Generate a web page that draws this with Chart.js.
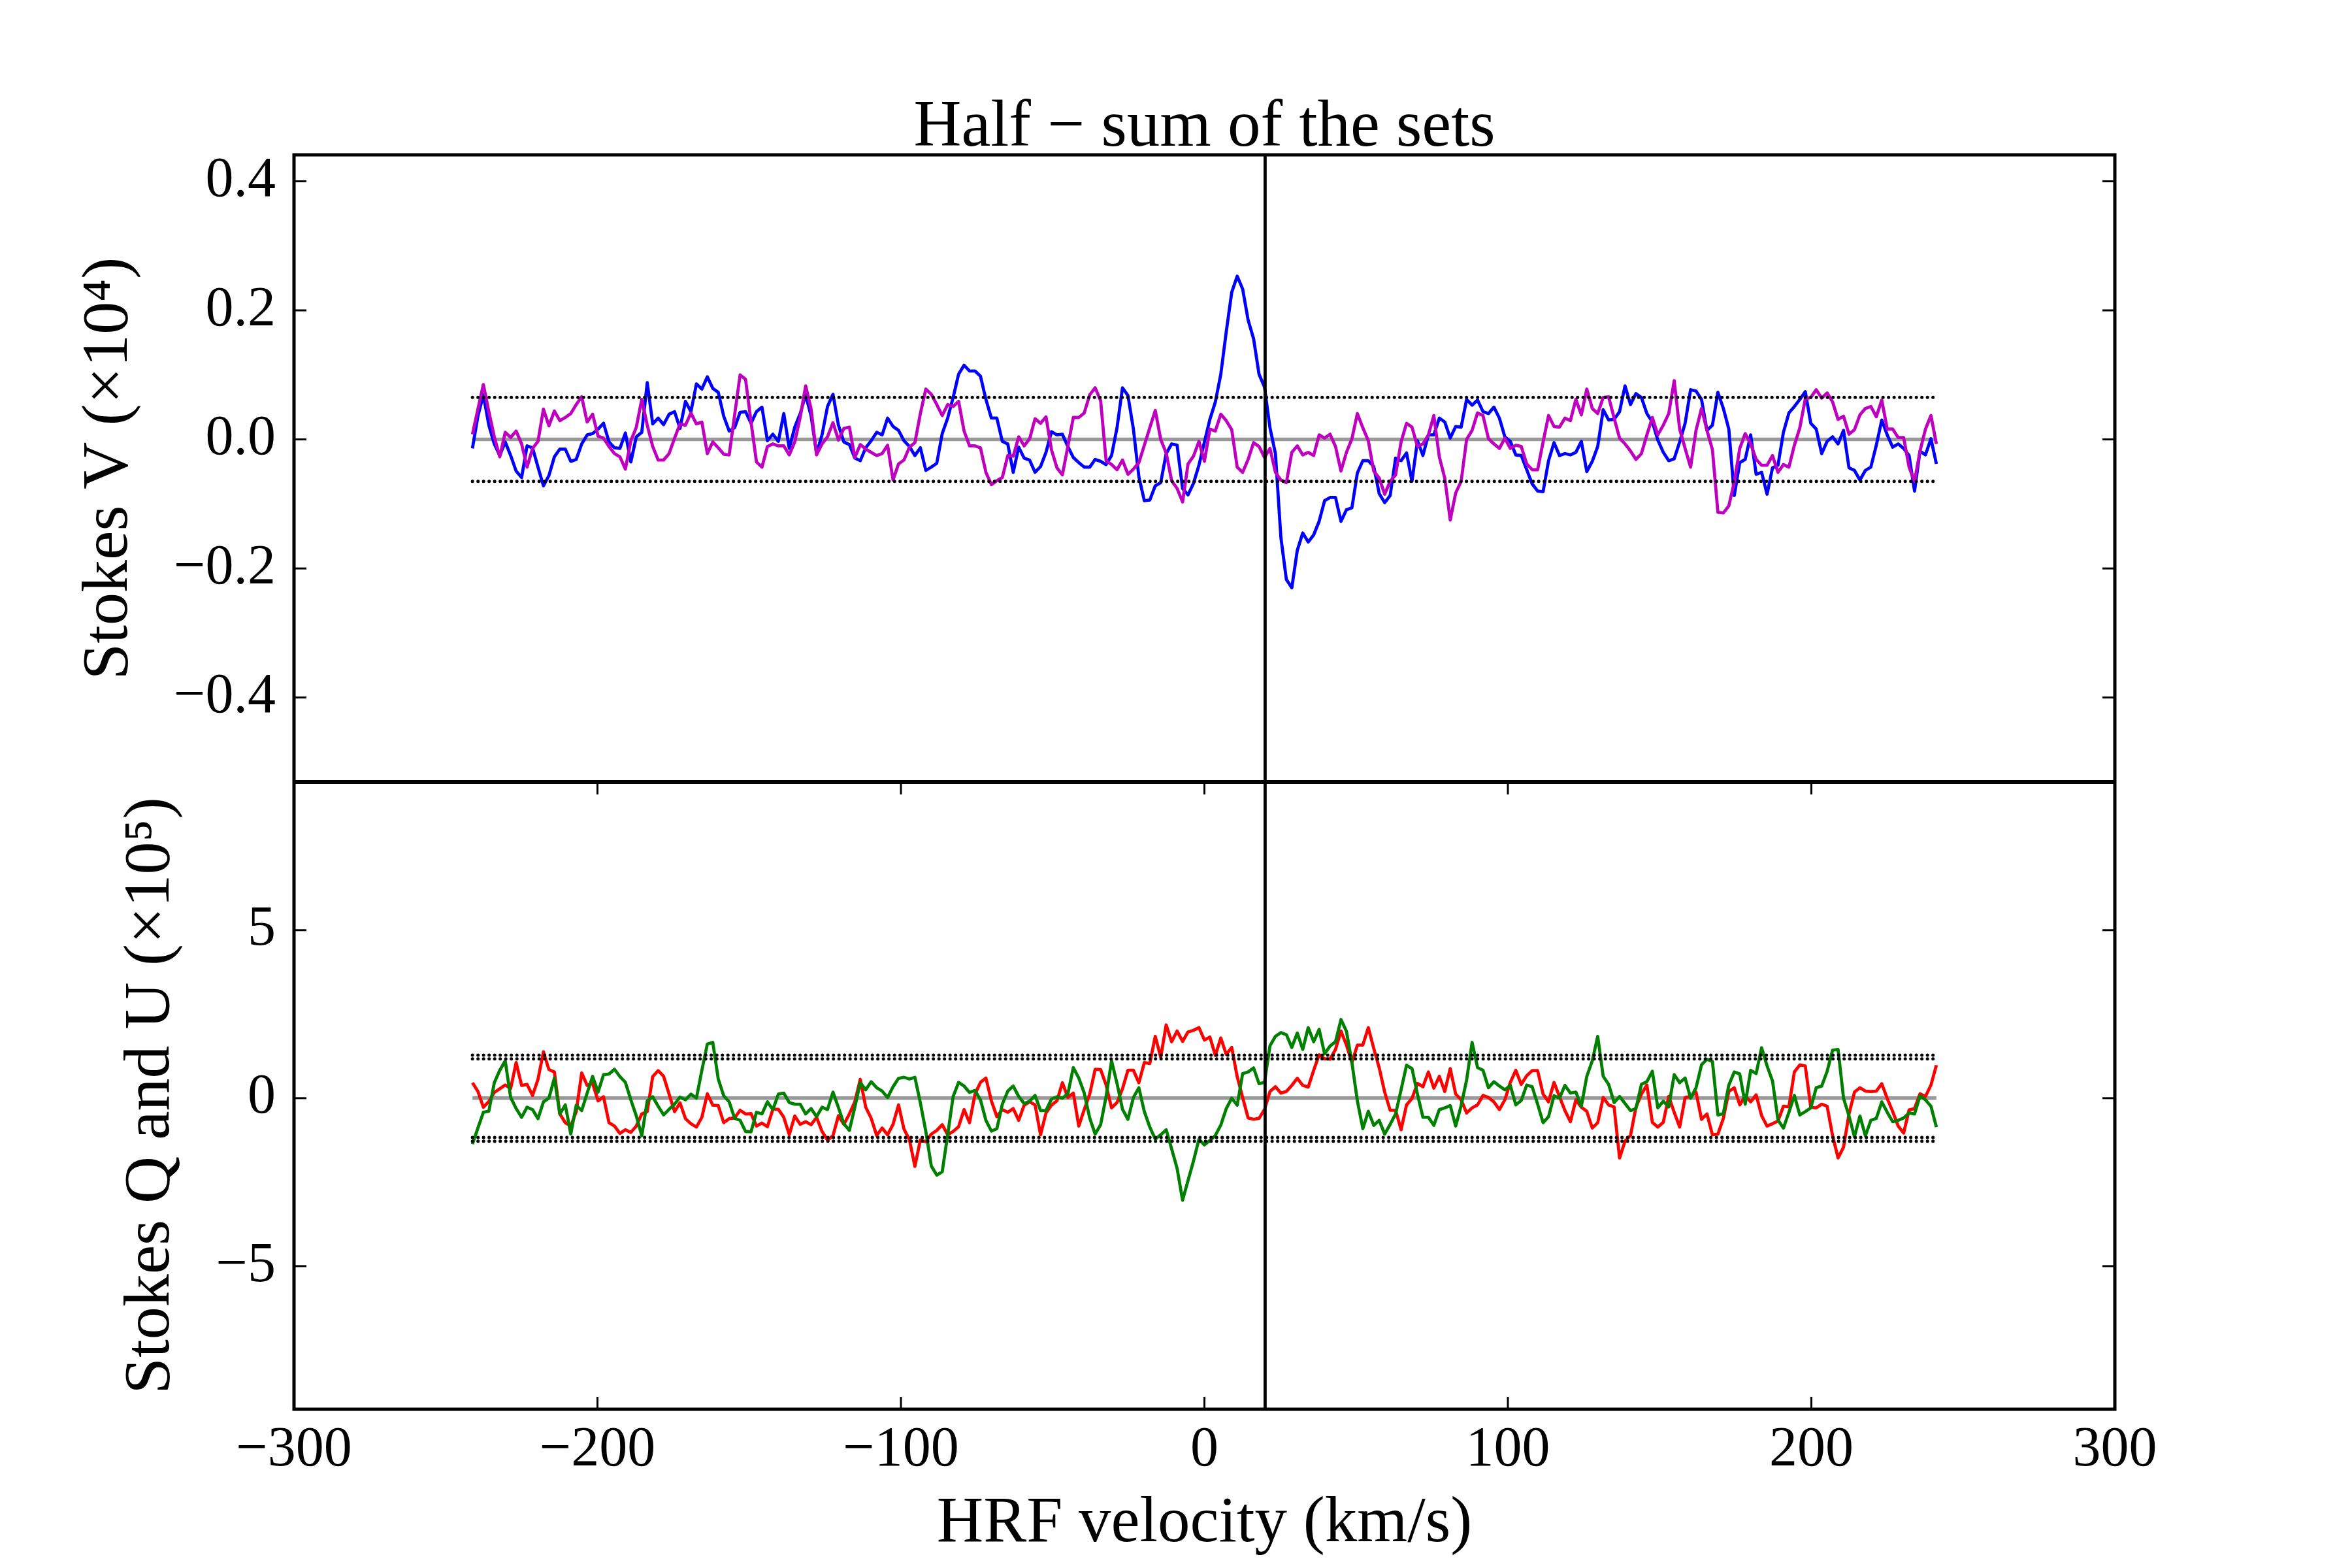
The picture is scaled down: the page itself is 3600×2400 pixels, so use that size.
<!DOCTYPE html>
<html>
<head>
<meta charset="utf-8">
<script src="https://cdn.jsdelivr.net/npm/chart.js@4.4.1/dist/chart.umd.min.js"></script>
<style>
  html, body { margin: 0; padding: 0; background: #ffffff; }
  canvas { display: block; }
</style>
</head>
<body>
<canvas id="chart" width="3600" height="2400"></canvas>
<script>
// ---------------- DATA ----------------
const TITLE = 'Half \u2212 sum of the sets';
const X_LABEL = 'HRF velocity (km/s)';
const Y_TOP_LABEL = 'Stokes V (\u00d710\u2074)';
const Y_BOT_LABEL = 'Stokes Q and U (\u00d710\u2075)';

// velocity grid of the spectrum (km/s): first pixel and pixel step
const VEL_START = -241.2;
const VEL_STEP = 1.8;

// reference velocity (vertical line) and noise levels (dotted lines)
const V_REF = 20;
const SIGMA_V = [0.065];
const SIGMA_QU = [1.17, 1.28];

// Stokes V, first set (blue)
const stokesV_a = [
 -0.014, 0.036, 0.069, 0.022,-0.007,-0.025,-0.004,-0.025,-0.049,-0.059,
 -0.010,-0.013,-0.043,-0.072,-0.056,-0.027,-0.015,-0.015,-0.034,-0.031,
 -0.007, 0.007, 0.009, 0.016, 0.025,-0.004,-0.013,-0.014, 0.010,-0.035,
  0.004, 0.011, 0.088, 0.024, 0.033, 0.023, 0.039, 0.043, 0.017, 0.059,
  0.043, 0.086, 0.078, 0.097, 0.079, 0.073, 0.036, 0.013, 0.018, 0.042,
  0.043, 0.025, 0.043, 0.050,-0.002, 0.008,-0.003, 0.040,-0.014, 0.019,
  0.040, 0.069, 0.036,-0.022, 0.007, 0.051, 0.070, 0.022,-0.004,-0.008,
 -0.029,-0.033,-0.013,-0.002, 0.011, 0.007, 0.033, 0.020, 0.014,-0.002,
 -0.011,-0.025,-0.013,-0.048,-0.043,-0.037, 0.009, 0.033, 0.065, 0.101,
  0.115, 0.106, 0.106, 0.098, 0.062, 0.033, 0.033,-0.003,-0.007,-0.051,
 -0.012,-0.029,-0.032,-0.051,-0.042,-0.020, 0.012, 0.007, 0.008,-0.011,
 -0.028,-0.036,-0.043,-0.043,-0.031,-0.034,-0.039,-0.025, 0.018, 0.080,
  0.068, 0.016,-0.058,-0.095,-0.094,-0.072,-0.067,-0.022,-0.007,-0.009,
 -0.076,-0.086,-0.068,-0.040,-0.004, 0.031, 0.058, 0.101, 0.167, 0.228,
  0.253, 0.233, 0.185, 0.156, 0.101, 0.081, 0.018,-0.022,-0.152,-0.217,
 -0.230,-0.172,-0.145,-0.159,-0.148,-0.127,-0.095,-0.090,-0.090,-0.127,
 -0.109,-0.106,-0.052,-0.033,-0.033,-0.042,-0.084,-0.098,-0.087,-0.029,
 -0.033,-0.021,-0.065,-0.002,-0.025, 0.007, 0.007, 0.033, 0.027, 0.002,
  0.020, 0.019, 0.062, 0.053, 0.061, 0.043, 0.040, 0.050, 0.033, 0.004,
 -0.003,-0.024,-0.025,-0.047,-0.069,-0.080,-0.081,-0.033,-0.005,-0.025,
 -0.022,-0.024,-0.020,-0.003,-0.050,-0.034,-0.011, 0.046, 0.030, 0.031,
  0.043, 0.083, 0.054, 0.071, 0.065, 0.040, 0.027,-0.001,-0.020,-0.033,
 -0.030,-0.004, 0.025, 0.077, 0.075, 0.062, 0.014, 0.022, 0.073, 0.048,
  0.016,-0.087,-0.036,-0.031, 0.007,-0.054,-0.051,-0.085,-0.044,-0.040,
  0.011, 0.041, 0.051, 0.062, 0.074, 0.025, 0.016,-0.022,-0.003, 0.004,
 -0.007, 0.014,-0.044,-0.048,-0.063,-0.048,-0.043,-0.009, 0.030, 0.007,
 -0.012,-0.007,-0.014,-0.025,-0.080,-0.018,-0.024, 0.001,-0.038
];

// Stokes V, second set (magenta)
const stokesV_b = [
  0.008, 0.047, 0.085, 0.043, 0.004,-0.027, 0.011, 0.003, 0.013,-0.007,
 -0.043,-0.014,-0.003, 0.047, 0.021, 0.044, 0.029, 0.034, 0.040, 0.054,
  0.066, 0.027, 0.039, 0.005, 0.002,-0.011,-0.022,-0.027,-0.046,-0.002,
  0.019, 0.062, 0.022,-0.011,-0.032,-0.032,-0.022, 0.002, 0.024, 0.022,
  0.041, 0.024, 0.027,-0.022,-0.004,-0.013,-0.023,-0.024, 0.038, 0.100,
  0.093, 0.027,-0.035,-0.043,-0.011,-0.007,-0.010,-0.010,-0.024,-0.004,
  0.034, 0.083, 0.047,-0.024,-0.007, 0.004, 0.026,-0.001, 0.017, 0.019,
 -0.028,-0.008,-0.015,-0.020,-0.025,-0.022,-0.009,-0.063,-0.038,-0.032,
 -0.012,-0.005, 0.040, 0.078, 0.070, 0.054, 0.037, 0.054, 0.051, 0.059,
  0.013,-0.010,-0.010,-0.013,-0.051,-0.070,-0.064,-0.059,-0.025,-0.026,
  0.004,-0.010, 0.001, 0.032, 0.025, 0.035,-0.016,-0.044,-0.055,-0.011,
  0.034, 0.034, 0.041, 0.069, 0.080, 0.060,-0.033,-0.039,-0.047,-0.032,
 -0.054,-0.046,-0.036,-0.009, 0.018, 0.045, 0.000,-0.021,-0.064,-0.076,
 -0.097,-0.038,-0.026,-0.003,-0.034, 0.016, 0.013, 0.039, 0.029, 0.015,
 -0.043,-0.051,-0.031,-0.005,-0.011,-0.028,-0.014,-0.051,-0.063,-0.067,
 -0.020,-0.010,-0.024,-0.020,-0.025, 0.007, 0.002, 0.008,-0.011,-0.049,
 -0.020, 0.001, 0.040, 0.018,-0.002,-0.049,-0.060,-0.085,-0.065,-0.055,
 -0.004, 0.025, 0.019,-0.011,-0.007, 0.007, 0.037,-0.027,-0.060,-0.125,
 -0.083,-0.065, 0.000, 0.014, 0.041, 0.037, 0.001,-0.007,-0.014, 0.002,
 -0.014,-0.009,-0.011,-0.038,-0.047,-0.047,-0.004, 0.037, 0.020, 0.019,
  0.033, 0.029, 0.062, 0.038, 0.078, 0.048, 0.040, 0.065, 0.066, 0.033,
  0.002,-0.007,-0.018,-0.031,-0.022, 0.007, 0.034, 0.007, 0.022, 0.040,
  0.091, 0.016,-0.014,-0.043, 0.014, 0.048, 0.014,-0.016,-0.113,-0.114,
 -0.103,-0.066,-0.014, 0.009,-0.007,-0.031,-0.040,-0.040,-0.025,-0.051,
 -0.039,-0.043,-0.009, 0.018, 0.063, 0.065, 0.077, 0.064, 0.072, 0.058,
  0.031, 0.036, 0.008, 0.015, 0.038, 0.048, 0.051, 0.035, 0.061, 0.016,
  0.016, 0.003, 0.003,-0.043,-0.065,-0.018, 0.016, 0.037,-0.007
];

// Stokes Q (red)
const stokesQ = [
  0.46, 0.20,-0.27,-0.10, 0.17, 0.28, 0.39, 0.29, 1.06, 0.38,
  0.41, 0.08, 0.56, 1.38, 0.85, 0.78,-0.47,-0.73,-0.83,-0.40,
  0.75, 0.38, 0.44,-0.08, 0.04,-0.73,-0.83,-1.05,-0.94,-1.02,
 -0.83,-0.47,-0.40, 0.64, 0.82, 0.65, 0.12,-0.40,-0.14,-0.61,
 -0.76,-0.86,-0.57, 0.13,-0.21,-0.22,-0.73,-0.61,-0.59,-0.36,
 -0.47,-0.46,-0.83,-0.74,-0.85,-0.33,-0.33,-0.57,-1.09,-0.53,
 -0.78,-0.70,-0.79,-0.57,-0.99,-1.25,-1.12,-0.52,-0.78,-0.47,
 -0.11, 0.56,-0.27,-0.60,-1.11,-0.89,-1.09,-0.78,-0.20,-0.92,
 -1.24,-2.03,-1.24,-1.30,-1.07,-0.96,-0.79,-1.09,-0.99,-0.85,
 -0.34,-0.73, 0.12, 0.47, 0.60,-0.08,-0.55,-0.34,-0.42,-0.31,
 -0.66,-0.21,-0.11,-0.20,-1.09,-0.44,-0.21,-0.08, 0.46, 0.02,
  0.15,-0.83,-0.34, 0.12, 0.86, 0.85, 0.39,-0.29,-0.13, 0.28,
  0.83, 0.83, 0.46, 1.06, 1.03, 1.84, 1.22, 2.18, 1.68, 2.00,
  1.69, 1.97, 2.02, 2.10, 1.73, 1.82, 1.27, 1.79, 1.30, 1.51,
  0.64, 0.02,-0.59,-0.63,-0.60,-0.34, 0.20, 0.34, 0.15, 0.20,
  0.38, 0.59, 0.38, 0.33, 0.83, 1.29, 1.17, 1.16, 1.45, 2.00,
  1.58, 1.06, 1.58, 1.58, 2.10, 1.48, 0.90, 0.18,-0.36,-0.36,
 -0.94,-0.20,-0.01, 0.44, 0.34, 0.78, 0.30, 0.65, 0.20, 0.88,
  0.12,-0.05,-0.44,-0.29,-0.20, 0.08, 0.02,-0.11,-0.34,-0.05,
  0.47, 0.83, 0.41, 0.67, 0.82, 0.82, 0.12,-0.11, 0.47, 0.05,
 -0.37,-0.70,-0.05,-0.27,-0.39,-0.89,-0.73, 0.02,-0.20,-0.26,
 -1.78,-1.28,-1.11,-0.27, 0.12, 0.39,-0.72,-0.86,-0.72, 0.05,
 -0.42,-0.86, 0.02, 0.05, 0.18,-0.63,-0.47,-1.09,-1.07,-0.60,
  0.20, 0.31,-0.20, 0.07,-0.11, 0.10,-0.52,-0.83,-0.76,-0.68,
 -0.24,-0.26, 0.78, 0.99, 0.96,-0.27,-0.29,-0.18,-0.24,-1.12,
 -1.78,-1.46,-0.47, 0.18, 0.31, 0.21, 0.20, 0.21, 0.43,-0.01,
 -0.40,-0.83,-1.04,-0.35,-0.31, 0.13, 0.05, 0.39, 0.98
];

// Stokes U (green)
const stokesU = [
 -1.37,-0.89,-0.42,-0.39, 0.46, 0.83, 1.11, 0.02,-0.31,-0.57,
 -0.27,-0.34,-0.61,-0.11, 0.00, 0.60,-0.47,-0.20,-1.07,-0.21,
 -0.37, 0.15, 0.65, 0.18, 0.70, 0.72, 0.86, 0.64, 0.47,-0.05,
 -0.53,-1.12,-0.08, 0.04,-0.24,-0.50,-0.33,-0.18, 0.03,-0.05,
  0.12, 0.00, 0.83, 1.61, 1.66, 0.57, 0.07,-0.11,-0.60,-0.66,
 -0.99,-1.00,-0.42,-0.47,-0.11,-0.34, 0.12, 0.15,-0.13,-0.18,
 -0.18,-0.47,-0.31,-0.55,-0.27,-0.34, 0.18,-0.28,-0.76,-0.96,
 -0.27, 0.46, 0.25, 0.49, 0.31, 0.21, 0.02, 0.34, 0.59, 0.62,
  0.57, 0.62,-0.14,-0.99,-2.02,-2.29,-2.19,-1.09, 0.05, 0.47,
  0.36, 0.17, 0.23,-0.05,-0.66,-0.98,-0.91,-0.18, 0.21, 0.36,
  0.05,-0.16,-0.09, 0.08,-0.37,-0.37,-0.03, 0.04, 0.00, 0.13,
  0.91, 0.60, 0.15,-0.59,-1.07,-0.79, 0.05, 1.11, 0.44,-0.33,
 -0.63, 0.02, 0.31,-0.40,-0.86,-1.22,-1.09,-0.94,-1.51,-2.09,
 -3.04,-2.45,-1.87,-1.22,-1.39,-1.26,-1.11,-0.80,-0.31, 0.00,
 -0.21, 0.73, 0.78, 0.90, 0.43, 0.47, 1.56, 1.84, 1.95, 1.89,
  1.51, 1.94, 1.45, 2.10, 1.68, 2.05, 1.32, 1.55, 1.68, 2.34,
  1.99, 1.06,-0.08,-0.91,-0.39,-0.81,-0.66,-1.07,-0.78,-0.47,
  0.25, 0.98, 0.88, 0.12,-0.57,-0.57,-0.81,-0.34,-0.29,-0.22,
 -0.83,-0.22, 0.54, 1.66, 0.91, 0.83, 0.31, 0.49, 0.36, 0.25,
  0.38,-0.20,-0.07, 0.39, 0.34,-0.18,-0.73,-0.55, 0.07, 0.00,
  0.38, 0.15, 0.18,-0.24, 0.65, 1.11, 1.84, 0.65, 0.41,-0.13,
  0.05,-0.16,-0.37,-0.31, 0.41, 0.49, 0.80,-0.29,-0.09,-0.26,
  0.70, 0.46, 0.60, 0.00, 0.31, 0.99, 1.16, 1.09,-0.50,-0.46,
  0.39, 0.78, 0.72,-0.18, 0.83, 0.73, 1.50, 0.96, 0.51,-0.65,
 -0.89,-0.42, 0.08,-0.50,-0.40,-0.29, 0.31, 0.36, 0.80, 1.43,
  1.45, 0.00,-0.53,-1.15,-0.53,-1.12,-0.66,-0.60,-0.11,-0.42,
 -0.70,-0.66,-0.59,-0.44,-0.47, 0.07,-0.05,-0.24,-0.86
];

// axis ranges and tick steps
const X_RANGE = [-300, 300];
const X_STEP = 100;
const Y_TOP_RANGE = [-0.531, 0.441];
const Y_TOP_STEP = 0.2;
const Y_BOT_RANGE = [-9.26, 9.41];
const Y_BOT_STEP = 5;

// ---------------- BUILD ----------------
const velocity = stokesV_a.map((_, i) => Math.round((VEL_START + i * VEL_STEP) * 100) / 100);
const vFirst = velocity[0], vLast = velocity[velocity.length - 1];
const pts = arr => velocity.map((v, i) => ({ x: v, y: arr[i] }));
const hline = y => [{ x: vFirst, y: y }, { x: vLast, y: y }];

const FONT = '"Liberation Serif", "Times New Roman", serif';
Chart.defaults.font.family = FONT;
Chart.defaults.color = '#000000';

const LW = 4.8;
const dotted = (y, axis) => ({
  data: hline(y), yAxisID: axis, borderColor: '#000000', borderWidth: 5,
  borderDash: [0.1, 8.4], borderCapStyle: 'round', order: 1
});

const datasets = [
  { label: 'zeroV', data: hline(0), yAxisID: 'yTop', borderColor: '#999999', borderWidth: 5.5, order: 6 },
  { label: 'V set 1', data: pts(stokesV_a), yAxisID: 'yTop', borderColor: '#0000ff', borderWidth: LW, order: 4 },
  { label: 'V set 2', data: pts(stokesV_b), yAxisID: 'yTop', borderColor: '#bf00bf', borderWidth: LW, order: 3 },
  dotted(SIGMA_V[0], 'yTop'), dotted(-SIGMA_V[0], 'yTop'),
  { label: 'zeroQU', data: hline(0), yAxisID: 'yBot', borderColor: '#999999', borderWidth: 5.5, order: 6 },
  { label: 'Q', data: pts(stokesQ), yAxisID: 'yBot', borderColor: '#ff0000', borderWidth: LW, order: 4 },
  { label: 'U', data: pts(stokesU), yAxisID: 'yBot', borderColor: '#008000', borderWidth: LW, order: 3 },
  dotted(SIGMA_QU[0], 'yBot'), dotted(-SIGMA_QU[0], 'yBot'),
  dotted(SIGMA_QU[1], 'yBot'), dotted(-SIGMA_QU[1], 'yBot')
];

const minus = s => s.replace('-', '\u2212');
const fmtInt = v => minus(String(Math.round(v)));
const fmt1 = v => Math.abs(v) < 1e-9 ? '0.0' : minus(v.toFixed(1));

const TICK_LEN = 19;
const framePlugin = {
  id: 'frame',
  afterDraw(chart) {
    const { ctx, chartArea: ca, scales } = chart;
    const { x, yTop, yBot } = scales;
    const line = (x1, y1, x2, y2) => { ctx.beginPath(); ctx.moveTo(x1, y1); ctx.lineTo(x2, y2); ctx.stroke(); };
    ctx.save();
    ctx.strokeStyle = '#000000';
    ctx.lineCap = 'butt';
    // reference velocity line through both panels
    const xr = x.getPixelForValue(V_REF);
    ctx.lineWidth = 4.8;
    line(xr, ca.top, xr, ca.bottom);
    // inward ticks
    ctx.lineWidth = 3;
    for (const s of [yTop, yBot]) {
      for (const t of s.ticks) {
        const p = s.getPixelForValue(t.value);
        line(ca.left, p, ca.left + TICK_LEN, p);
        line(ca.right, p, ca.right - TICK_LEN, p);
      }
    }
    for (const t of x.ticks) {
      const p = x.getPixelForValue(t.value);
      line(p, ca.bottom, p, ca.bottom - TICK_LEN);
      line(p, yBot.top, p, yBot.top + TICK_LEN);
    }
    // frames
    ctx.lineWidth = 5;
    ctx.strokeRect(ca.left, ca.top, ca.right - ca.left, ca.bottom - ca.top);
    ctx.lineWidth = 6;
    line(ca.left, yBot.top, ca.right, yBot.top);
    // title
    ctx.fillStyle = '#000000';
    ctx.font = '101px ' + FONT;
    ctx.textAlign = 'center';
    ctx.textBaseline = 'alphabetic';
    ctx.fillText(TITLE, (ca.left + ca.right) / 2, 223);
    ctx.restore();
  }
};

const yCommon = {
  type: 'linear', position: 'left', stack: 'panels', stackWeight: 1,
  grid: { display: false, drawTicks: false }, border: { display: false },
  afterFit: s => { s.width = 450; }
};

new Chart(document.getElementById('chart'), {
  type: 'line',
  data: { datasets },
  options: {
    responsive: false,
    animation: false,
    devicePixelRatio: 1,
    layout: { padding: { top: 237, right: 363, bottom: 0, left: 0 } },
    plugins: { legend: { display: false }, tooltip: { enabled: false }, title: { display: false } },
    elements: {
      point: { radius: 0, hoverRadius: 0 },
      line: { tension: 0, borderJoinStyle: 'round', fill: false }
    },
    scales: {
      x: {
        type: 'linear', min: X_RANGE[0], max: X_RANGE[1],
        grid: { display: false, drawTicks: false }, border: { display: false },
        ticks: { stepSize: X_STEP, font: { size: 86 }, padding: 12, maxRotation: 0, autoSkip: false, includeBounds: false, callback: fmtInt },
        title: { display: true, text: X_LABEL, font: { size: 99, lineHeight: 1.2 }, padding: { top: 0, bottom: 8 } },
        afterFit: s => { s.height = 243; }
      },
      yBot: Object.assign({}, yCommon, {
        min: Y_BOT_RANGE[0], max: Y_BOT_RANGE[1],
        ticks: { stepSize: Y_BOT_STEP, font: { size: 86 }, padding: 28, includeBounds: false, callback: fmtInt },
        title: { display: true, text: Y_BOT_LABEL, font: { size: 100, lineHeight: 1.2 }, padding: { top: 172, bottom: 0 } }
      }),
      yTop: Object.assign({}, yCommon, {
        min: Y_TOP_RANGE[0], max: Y_TOP_RANGE[1],
        ticks: { stepSize: Y_TOP_STEP, font: { size: 86 }, padding: 28, includeBounds: false, callback: fmt1 },
        title: { display: true, text: Y_TOP_LABEL, font: { size: 100, lineHeight: 1.2 }, padding: { top: 108, bottom: 0 } }
      })
    }
  },
  plugins: [framePlugin]
});
</script>
</body>
</html>
